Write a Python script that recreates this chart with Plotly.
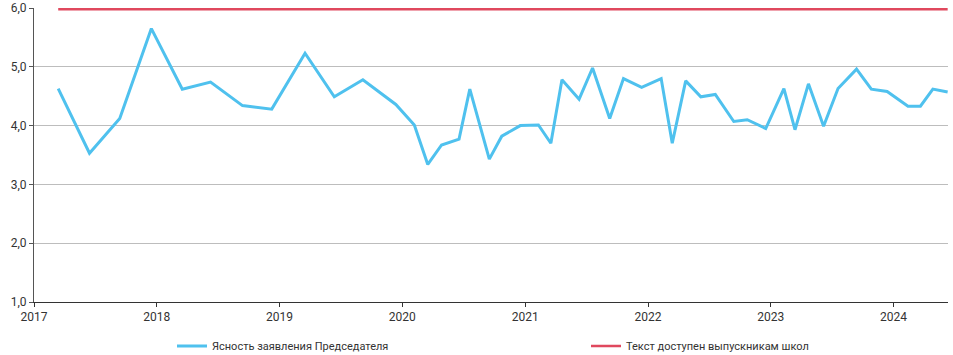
import plotly.graph_objects as go

# Dates of statements
dates = [
    "2017-03-14", "2017-06-15", "2017-09-13", "2017-12-16",
    "2018-03-18", "2018-06-10", "2018-09-13", "2018-12-09",
    "2019-03-18", "2019-06-13", "2019-09-06", "2019-12-13",
    "2020-02-06", "2020-03-17", "2020-04-27", "2020-06-18",
    "2020-07-20", "2020-09-16", "2020-10-23", "2020-12-17",
    "2021-02-09", "2021-03-18", "2021-04-20", "2021-06-10",
    "2021-07-20", "2021-09-09", "2021-10-20", "2021-12-13",
    "2022-02-09", "2022-03-14", "2022-04-23", "2022-06-07",
    "2022-07-20", "2022-09-13", "2022-10-23", "2022-12-17",
    "2023-02-09", "2023-03-14", "2023-04-23", "2023-06-07",
    "2023-07-20", "2023-09-13", "2023-10-27", "2023-12-13",
    "2024-02-13", "2024-03-21", "2024-04-27", "2024-06-10",
]

clarity = [
    4.63, 3.53, 4.12, 5.65,
    4.62, 4.74, 4.34, 4.28,
    5.23, 4.49, 4.78, 4.36,
    4.01, 3.34, 3.67, 3.77,
    4.62, 3.43, 3.82, 4.00,
    4.01, 3.70, 4.78, 4.45,
    4.98, 4.12, 4.80, 4.65,
    4.80, 3.70, 4.76, 4.49,
    4.53, 4.07, 4.10, 3.95,
    4.63, 3.93, 4.71, 3.99,
    4.63, 4.96, 4.62, 4.58,
    4.33, 4.33, 4.62, 4.57,
]

graduate_level = [5.98] * len(dates)

name_clarity = "Ясность заявления Председателя"
name_grad = "Текст доступен выпускникам школ"

BLUE = "#4fc1ee"
RED = "#e0485e"
FONT = "Roboto"

fig = go.Figure()
fig.add_trace(go.Scatter(
    x=dates, y=graduate_level, mode="lines", name=name_grad,
    line=dict(color=RED, width=2.5), hoverinfo="skip",
))
fig.add_trace(go.Scatter(
    x=dates, y=clarity, mode="lines", name=name_clarity,
    line=dict(color=BLUE, width=3),
))

fig.update_layout(
    width=953, height=355,
    margin=dict(l=34, r=5, t=8, b=53),
    paper_bgcolor="white", plot_bgcolor="white",
    separators=", ",
    font=dict(family=FONT, size=12, color="#333333"),
    showlegend=True,
    legend=dict(
        orientation="h", traceorder="reversed",
        xref="container", yref="container",
        x=172 / 953, y=9 / 355, xanchor="left", yanchor="middle",
        entrywidth=369, entrywidthmode="pixels",
        font=dict(family=FONT, size=11, color="#333333"),
        bgcolor="rgba(0,0,0,0)",
    ),
    xaxis=dict(
        type="date", automargin=False,
        range=["2017-01-01", "2024-06-11"],
        dtick="M12", tick0="2017-01-01", tickformat="%Y",
        ticks="outside", ticklen=4, tickcolor="#333333",
        showline=True, linecolor="#333333", linewidth=1,
        showgrid=False, zeroline=False,
        tickfont=dict(size=12, color="#333333"),
    ),
    yaxis=dict(
        range=[1, 6], dtick=1, tickformat=".1f", automargin=False,
        ticks="outside", ticklen=4, tickcolor="#555555",
        showline=True, linecolor="#555555", linewidth=1,
        showgrid=True, gridcolor="#bdbdbd", gridwidth=1,
        zeroline=False,
        tickfont=dict(size=12, color="#333333"),
    ),
)

fig.write_html("out.html", config={"displayModeBar": False},
               post_script="document.body.style.margin='0';")
